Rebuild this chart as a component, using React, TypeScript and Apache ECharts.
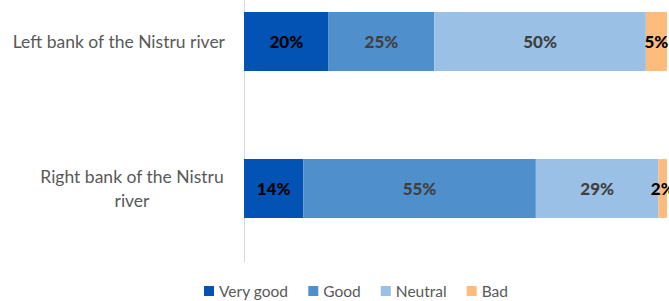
import React, { useEffect, useRef } from "react";
import * as echarts from "echarts";

const categories = ["Left bank of the Nistru river", "Right bank of the Nistru river"];
const seriesNames = ["Very good", "Good", "Neutral", "Bad"];
const veryGood = [20, 14];
const good = [25, 55];
const neutral = [50, 29];
const bad = [5, 2];
const colors = ["#0353B5", "#4F8FCB", "#9AC0E5", "#FDBB7C"];
const labelColors = ["#000000", "#404040", "#404040", "#000000"];

const OFFSET = 32;

export default function App() {
  const ref = useRef<HTMLDivElement>(null);
  useEffect(() => {
    if (!ref.current) return;
    const chart = echarts.init(ref.current, undefined, { renderer: "svg" });
    const values = [veryGood, good, neutral, bad];
    const font = "Lato, 'Open Sans', sans-serif";
    chart.setOption({
      animation: false,
      backgroundColor: "#ffffff",
      grid: { left: 244, right: 2, top: 0, bottom: 39, containLabel: false },
      legend: {
        data: seriesNames,
        left: 204,
        top: 283 + OFFSET,
        padding: 0,
        itemWidth: 10,
        itemHeight: 10,
        itemGap: 20,
        icon: "rect",
        textStyle: { color: "#595959", fontSize: 15.5, fontFamily: font },
      },
      xAxis: {
        type: "value",
        min: 0,
        max: 100,
        show: false,
        splitLine: { show: false },
      },
      yAxis: {
        type: "category",
        data: categories,
        inverse: true,
        axisLine: { show: true, lineStyle: { color: "#D9D9D9", width: 1 } },
        axisTick: { show: false },
        axisLabel: {
          margin: 19,
          color: "#595959",
          fontSize: 17.5,
          fontFamily: font,
          align: "right",
          formatter: (v: string) => {
            if (v === categories[1]) {
              return "{c|Right bank of the Nistru}\n{c|river}";
            }
            return v;
          },
          rich: {
            c: {
              width: 186,
              align: "center",
              color: "#595959",
              fontSize: 17.5,
              fontFamily: font,
              lineHeight: 24,
            },
          },
        },
      },
      series: seriesNames.map((name, i) => ({
        name,
        type: "bar",
        stack: "total",
        barCategoryGap: "60%",
        data: values[i],
        itemStyle: { color: colors[i] },
        label: {
          show: true,
          position: "inside",
          formatter: "{c}%",
          color: labelColors[i],
          fontSize: 17,
          fontWeight: 900,
          fontFamily: font,
        },
      })),
    });
    return () => chart.dispose();
  }, []);
  return (
    <div
      ref={ref}
      style={{ position: "fixed", left: 0, top: -OFFSET, width: 669, height: 301 + OFFSET }}
    />
  );
}
